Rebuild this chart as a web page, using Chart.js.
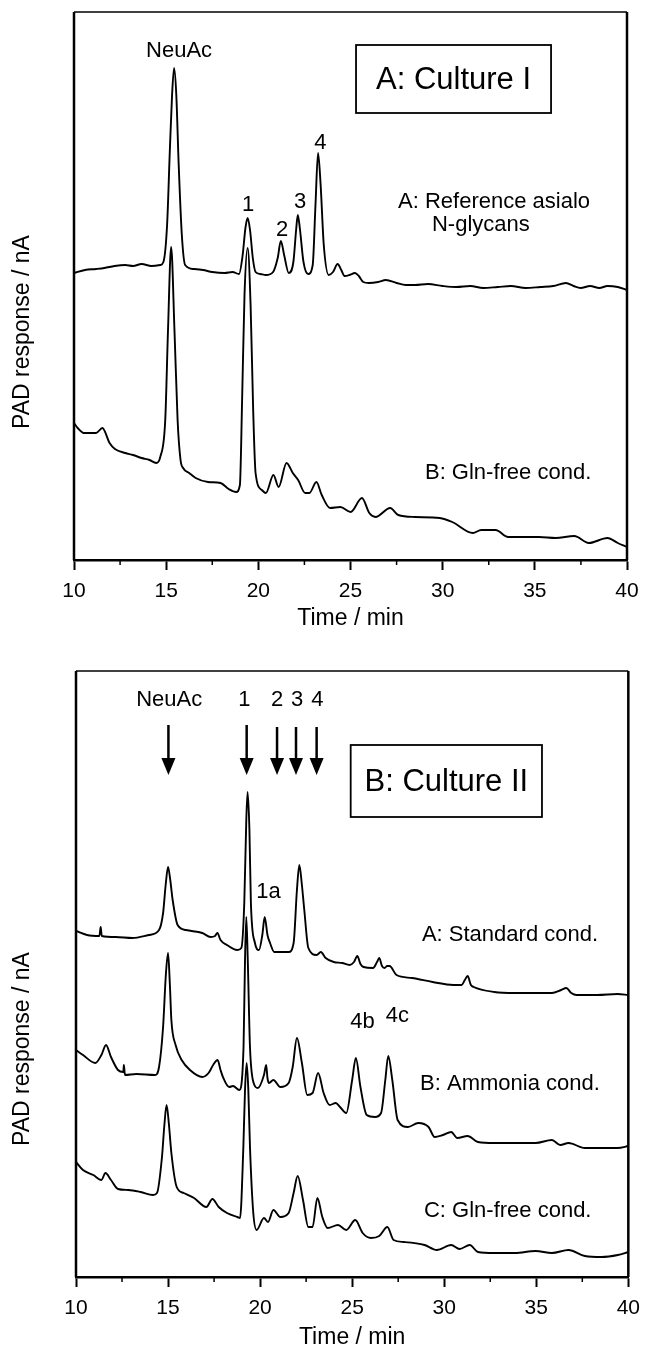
<!DOCTYPE html>
<html>
<head>
<meta charset="utf-8">
<script src="https://cdn.jsdelivr.net/npm/chart.js@4"></script>
<style>
    body { margin: 0; background: #fff; }
    #wrap { position: relative; width: 649px; height: 1351px; }
    #TopChart { position: absolute; left: 0; top: 0; }
    #BottomChart { position: absolute; left: 0; top: 650px; }
</style>
</head>
<body>
<div id="wrap">
    <canvas id="TopChart" width="649" height="650"></canvas>
    <canvas id="BottomChart" width="649" height="701"></canvas>
</div>
<script>
// ---- panel A: Culture I ----
const timeRefAsialo = [10.0, 10.6, 11.2, 11.65, 12.2, 12.78, 13.2, 13.67, 14.2, 14.68, 14.85, 15.05, 15.2, 15.32, 15.43, 15.55, 15.68, 15.85, 16.03, 16.5, 17.0, 17.5, 18.17, 18.6, 18.95, 19.15, 19.3, 19.42, 19.55, 19.7, 19.85, 20.1, 20.41, 20.8, 21.05, 21.22, 21.4, 21.65, 21.9, 22.05, 22.14, 22.25, 22.45, 22.7, 22.95, 23.1, 23.24, 23.38, 23.55, 23.82, 24.05, 24.3, 24.5, 24.68, 24.95, 25.24, 25.45, 25.69, 26.0, 26.5, 26.92, 27.5, 28.0, 28.5, 29.2, 30.0, 30.74, 31.5, 32.2, 32.99, 33.7, 34.5, 35.3, 36.0, 36.69, 37.1, 37.48, 38.0, 38.5, 38.94, 39.5, 40.0];
const respRefAsialo = [287, 290, 291, 292, 294, 295, 294, 296, 294, 295, 298, 335, 410, 465, 492, 465, 395, 325, 295, 291, 290, 288, 287, 288, 286, 305, 332, 342, 330, 302, 288, 286, 285, 288, 302, 319, 305, 287, 298, 330, 345, 332, 298, 286, 295, 355, 407, 375, 315, 285, 288, 296, 290, 284, 285, 287, 284, 278, 277, 278, 280, 277, 275, 275, 276, 274, 273, 274, 272, 273, 274, 272, 273, 274, 277, 274, 272, 274, 272, 274, 273, 270];

const timeGlnFreeI = [10.0, 10.2, 10.53, 11.2, 11.54, 11.93, 12.22, 12.78, 13.2, 13.67, 14.1, 14.46, 14.68, 14.95, 15.1, 15.27, 15.45, 15.62, 15.78, 15.92, 16.25, 16.6, 17.27, 17.95, 18.39, 18.8, 19.0, 19.12, 19.25, 19.42, 19.58, 19.72, 19.85, 20.19, 20.41, 20.82, 21.1, 21.53, 21.87, 22.16, 22.54, 22.77, 23.15, 23.44, 23.89, 24.45, 25.01, 25.62, 26.02, 26.36, 27.15, 27.59, 28.5, 29.84, 30.52, 31.64, 32.09, 32.87, 33.55, 35.23, 36.13, 37.14, 37.93, 38.94, 39.5, 40.0];
const respGlnFreeI = [137, 132, 127, 127, 132, 117, 111, 107, 105, 102, 100, 97, 103, 140, 230, 313, 230, 140, 100, 92, 87, 82, 78, 77, 71, 68, 75, 160, 265, 312, 255, 150, 87, 70, 67, 85, 73, 97, 87, 80, 67, 67, 78, 65, 52, 53, 48, 62, 47, 43, 52, 45, 43, 42, 38, 27, 30, 30, 23, 23, 22, 24, 17, 22, 17, 13];

// ---- panel B: Culture II ----
const timeStandard = [10.0, 10.6, 11.27, 11.34, 11.4, 12.16, 13.06, 13.95, 14.51, 14.73, 14.87, 15.0, 15.12, 15.25, 15.52, 15.97, 16.86, 17.31, 17.55, 17.68, 17.85, 18.2, 18.76, 18.98, 19.14, 19.25, 19.32, 19.42, 19.5, 19.72, 19.94, 20.12, 20.25, 20.4, 20.54, 20.77, 21.55, 21.82, 22.0, 22.13, 22.27, 22.4, 22.62, 23.07, 23.3, 23.56, 24.0, 24.46, 24.86, 25.1, 25.28, 25.45, 25.62, 26.13, 26.35, 26.47, 26.62, 26.76, 26.9, 27.03, 27.41, 28.25, 29.37, 30.49, 30.94, 31.12, 31.27, 31.45, 31.6, 32.72, 33.84, 34.96, 35.85, 36.35, 36.63, 36.9, 37.19, 38.31, 39.42, 40.0];
const respStandard = [346, 342, 341, 350, 341, 340, 339, 342, 347, 364, 392, 410, 397, 377, 352, 347, 344, 340, 341, 344, 337, 332, 327, 329, 374, 457, 485, 447, 374, 334, 327, 342, 360, 342, 334, 325, 325, 334, 387, 412, 392, 367, 329, 322, 325, 319, 315, 314, 312, 315, 321, 313, 310, 309, 315, 319, 311, 309, 311, 311, 302, 299, 295, 292, 292, 297, 301, 292, 290, 285, 284, 284, 284, 287, 289, 284, 282, 282, 283, 282];

const timeAmmonia = [10.0, 10.38, 11.05, 11.38, 11.63, 11.9, 12.28, 12.57, 12.6, 12.66, 13.28, 14.29, 14.51, 14.73, 14.88, 15.0, 15.1, 15.18, 15.41, 15.74, 16.19, 16.86, 17.2, 17.45, 17.69, 17.85, 17.98, 18.32, 18.53, 18.87, 19.1, 19.18, 19.25, 19.33, 19.45, 19.65, 19.88, 20.21, 20.33, 20.4, 20.48, 20.72, 21.1, 21.55, 21.77, 22.0, 22.27, 22.56, 22.85, 23.15, 23.45, 23.78, 24.11, 24.34, 24.68, 25.0, 25.2, 25.45, 25.79, 26.24, 26.57, 26.8, 26.96, 27.18, 27.47, 28.03, 28.59, 29.15, 29.48, 29.93, 30.38, 30.71, 31.27, 31.83, 32.72, 33.84, 34.96, 35.85, 36.3, 36.75, 37.64, 38.76, 39.43, 40.0];
const respAmmonia = [227, 222, 214, 222, 232, 220, 207, 205, 212, 202, 203, 202, 210, 250, 302, 324, 292, 257, 232, 217, 207, 200, 204, 212, 217, 207, 200, 190, 191, 187, 230, 317, 360, 317, 230, 194, 189, 202, 212, 199, 194, 197, 190, 194, 210, 239, 214, 182, 184, 204, 184, 172, 174, 170, 164, 197, 219, 190, 162, 160, 164, 197, 221, 197, 157, 150, 154, 150, 140, 142, 145, 139, 141, 135, 134, 134, 134, 137, 132, 134, 129, 129, 129, 131];

const timeGlnFreeII = [10.0, 10.38, 10.94, 11.38, 11.6, 11.9, 12.28, 12.84, 13.51, 14.18, 14.4, 14.67, 14.8, 14.92, 15.05, 15.18, 15.47, 15.85, 16.41, 17.08, 17.41, 17.75, 18.2, 18.76, 18.91, 19.09, 19.18, 19.27, 19.36, 19.45, 19.63, 19.81, 20.21, 20.43, 20.72, 21.1, 21.55, 21.82, 22.04, 22.33, 22.62, 22.85, 23.11, 23.38, 23.67, 24.23, 24.68, 25.17, 25.57, 26.02, 26.47, 26.91, 27.25, 27.81, 28.93, 29.6, 30.38, 30.83, 31.39, 31.83, 32.72, 33.84, 34.96, 35.85, 36.75, 37.64, 38.54, 39.43, 40.0];
const respGlnFreeII = [115, 107, 102, 97, 104, 97, 88, 87, 85, 82, 84, 120, 152, 172, 152, 124, 90, 84, 79, 70, 78, 70, 64, 60, 59, 130, 187, 214, 187, 130, 64, 47, 59, 55, 67, 60, 64, 84, 101, 77, 50, 50, 79, 60, 49, 52, 47, 57, 44, 39, 41, 50, 37, 35, 32, 27, 32, 28, 32, 25, 24, 24, 26, 24, 27, 21, 20, 22, 25];

const xTicks = [10, 15, 20, 25, 30, 35, 40];
const minorTicks = [12.5, 17.5, 22.5, 27.5, 32.5, 37.5];

const FONT = '"Liberation Sans", Arial, Helvetica, sans-serif';

function pts(ts, vs) {
    return ts.map((t, i) => ({ x: t, y: vs[i] }));
}

function lineSet(label, ts, vs) {
    return {
        label: label,
        data: pts(ts, vs),
        borderColor: '#000',
        borderWidth: 1.9,
        pointRadius: 0,
        fill: false,
        cubicInterpolationMode: 'monotone'
    };
}

// draws frame, minor ticks, y title, labels, box and arrows
const marksPlugin = {
    id: 'marks',
    afterDraw(chart, args, opts) {
        const ctx = chart.ctx;
        const a = chart.chartArea;
        const x = chart.scales.x;
        const y = chart.scales.y;
        ctx.save();
        ctx.strokeStyle = '#000';
        ctx.fillStyle = '#000';
        // frame
        ctx.lineWidth = 1.5;
        ctx.beginPath();
        ctx.moveTo(a.left, a.top);
        ctx.lineTo(a.right, a.top);
        ctx.stroke();
        ctx.lineWidth = 2.5;
        ctx.beginPath();
        ctx.moveTo(a.left, a.bottom);
        ctx.lineTo(a.left, a.top);
        ctx.moveTo(a.right, a.top);
        ctx.lineTo(a.right, a.bottom);
        ctx.stroke();
        // minor ticks
        ctx.lineWidth = 1.5;
        ctx.beginPath();
        minorTicks.forEach(v => {
            const px = x.getPixelForValue(v);
            ctx.moveTo(px, a.bottom);
            ctx.lineTo(px, a.bottom + 5);
        });
        ctx.stroke();
        // y axis title
        ctx.font = '23px ' + FONT;
        ctx.textAlign = 'center';
        ctx.textBaseline = 'middle';
        ctx.save();
        ctx.translate(opts.yTitle.x, y.getPixelForValue(opts.yTitle.value));
        ctx.rotate(-Math.PI / 2);
        ctx.fillText(opts.yTitle.text, 0, 0);
        ctx.restore();
        // text labels
        opts.labels.forEach(l => {
            ctx.font = (l.size || 22) + 'px ' + FONT;
            ctx.textAlign = l.align || 'center';
            ctx.fillText(l.text, x.getPixelForValue(l.t), y.getPixelForValue(l.v));
        });
        // box
        const b = opts.box;
        const bx0 = x.getPixelForValue(b.t0), bx1 = x.getPixelForValue(b.t1);
        const by0 = y.getPixelForValue(b.v0), by1 = y.getPixelForValue(b.v1);
        ctx.lineWidth = 1.8;
        ctx.strokeRect(bx0, by0, bx1 - bx0, by1 - by0);
        ctx.font = '31px ' + FONT;
        ctx.textAlign = 'center';
        ctx.fillText(b.text, (bx0 + bx1) / 2, (by0 + by1) / 2 + 1);
        // arrows
        (opts.arrows || []).forEach(ar => {
            const px = x.getPixelForValue(ar.t);
            const yTop = y.getPixelForValue(ar.v0);
            const yTip = y.getPixelForValue(ar.v1);
            ctx.lineWidth = 2.5;
            ctx.beginPath();
            ctx.moveTo(px, yTop);
            ctx.lineTo(px, yTip - 14);
            ctx.stroke();
            ctx.beginPath();
            ctx.moveTo(px - 7, yTip - 17);
            ctx.lineTo(px + 7, yTip - 17);
            ctx.lineTo(px, yTip);
            ctx.closePath();
            ctx.fill();
        });
        ctx.restore();
    }
};

function xScale(h, titlePad) {
    return {
        type: 'linear',
        min: 10,
        max: 40,
        afterBuildTicks: s => { s.ticks = xTicks.map(v => ({ value: v })); },
        ticks: {
            color: '#000',
            font: { size: 21, family: FONT },
            padding: 9,
            maxRotation: 0,
            autoSkip: false
        },
        grid: {
            drawOnChartArea: false,
            drawTicks: true,
            tickLength: 10,
            tickColor: '#000',
            tickWidth: 2
        },
        border: { display: true, color: '#000', width: 2.5 },
        title: {
            display: true,
            text: 'Time / min',
            color: '#000',
            font: { size: 23, family: FONT },
            padding: { top: 0, bottom: titlePad }
        },
        afterFit: s => { s.height = h; }
    };
}

const configTop = {
    type: 'line',
    data: {
        datasets: [
            lineSet('A: Reference asialo N-glycans', timeRefAsialo, respRefAsialo),
            lineSet('B: Gln-free cond.', timeGlnFreeI, respGlnFreeI)
        ]
    },
    options: {
        responsive: false,
        animation: false,
        layout: { padding: { top: 12, left: 74, right: 22, bottom: 0 } },
        scales: {
            x: xScale(90, 18),
            y: { display: false, min: 0, max: 548 }
        },
        plugins: {
            legend: { display: false },
            tooltip: { enabled: false },
            marks: {
                yTitle: { text: 'PAD response / nA', x: 23, value: 228 },
                labels: [
                    { text: 'NeuAc', t: 15.7, v: 509 },
                    { text: '1', t: 19.44, v: 355 },
                    { text: '2', t: 21.29, v: 330 },
                    { text: '3', t: 22.26, v: 358 },
                    { text: '4', t: 23.37, v: 417 },
                    { text: 'A: Reference asialo', t: 27.58, v: 358, align: 'left' },
                    { text: 'N-glycans', t: 29.42, v: 335, align: 'left' },
                    { text: 'B: Gln-free cond.', t: 29.04, v: 87, align: 'left' }
                ],
                box: { text: 'A: Culture I', t0: 25.3, t1: 35.88, v0: 515, v1: 447 }
            }
        }
    },
    plugins: [marksPlugin]
};

const configBottom = {
    type: 'line',
    data: {
        datasets: [
            lineSet('A: Standard cond.', timeStandard, respStandard),
            lineSet('B: Ammonia cond.', timeAmmonia, respAmmonia),
            lineSet('C: Gln-free cond.', timeGlnFreeII, respGlnFreeII)
        ]
    },
    options: {
        responsive: false,
        animation: false,
        layout: { padding: { top: 21, left: 76, right: 16, bottom: 0 } },
        scales: {
            x: xScale(74, 0),
            y: { display: false, min: 0, max: 606 }
        },
        plugins: {
            legend: { display: false },
            tooltip: { enabled: false },
            marks: {
                yTitle: { text: 'PAD response / nA', x: 23, value: 228 },
                labels: [
                    { text: 'NeuAc', t: 15.06, v: 577 },
                    { text: '1', t: 19.15, v: 577 },
                    { text: '2', t: 20.93, v: 577 },
                    { text: '3', t: 22.01, v: 577 },
                    { text: '4', t: 23.11, v: 577 },
                    { text: '1a', t: 20.45, v: 385 },
                    { text: '4b', t: 25.56, v: 255 },
                    { text: '4c', t: 27.45, v: 261 },
                    { text: 'A: Standard cond.', t: 28.79, v: 342, align: 'left' },
                    { text: 'B: Ammonia cond.', t: 28.69, v: 193, align: 'left' },
                    { text: 'C: Gln-free cond.', t: 28.9, v: 66, align: 'left' }
                ],
                box: { text: 'B: Culture II', t0: 24.92, t1: 35.31, v0: 532, v1: 460 },
                arrows: [
                    { t: 15.02, v0: 552, v1: 502 },
                    { t: 19.27, v0: 552, v1: 502 },
                    { t: 20.92, v0: 550, v1: 502 },
                    { t: 21.95, v0: 550, v1: 502 },
                    { t: 23.07, v0: 550, v1: 502 }
                ]
            }
        }
    },
    plugins: [marksPlugin]
};

const TopChart = new Chart(
    document.getElementById('TopChart'),
    configTop
);

const BottomChart = new Chart(
    document.getElementById('BottomChart'),
    configBottom
);
</script>
</body>
</html>
